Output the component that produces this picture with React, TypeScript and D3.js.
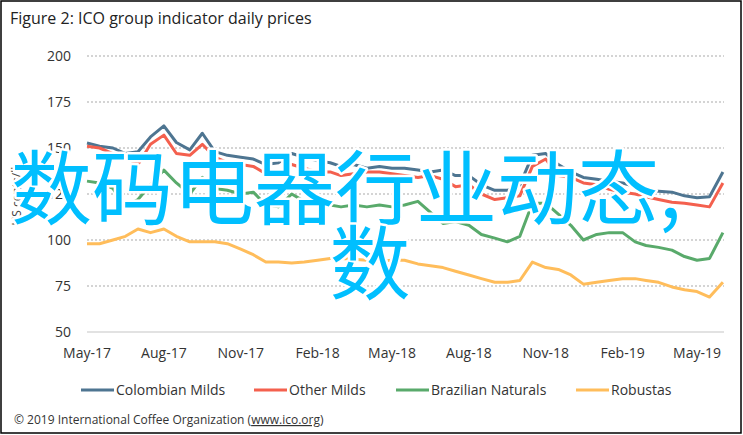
import { useEffect, useRef } from "react";
import * as d3 from "d3";

// half-monthly readings, May 2017 - Jun 2019 (US cents/lb)
const dates = [
  "2017-05-01", "2017-05-16", "2017-06-01", "2017-06-16", "2017-07-01", "2017-07-16",
  "2017-08-01", "2017-08-16", "2017-09-01", "2017-09-16", "2017-10-01", "2017-10-16",
  "2017-11-01", "2017-11-16", "2017-12-01", "2017-12-16", "2018-01-01", "2018-01-16",
  "2018-02-01", "2018-02-16", "2018-03-01", "2018-03-16", "2018-04-01", "2018-04-16",
  "2018-05-01", "2018-05-16", "2018-06-01", "2018-06-16", "2018-07-01", "2018-07-16",
  "2018-08-01", "2018-08-16", "2018-09-01", "2018-09-16", "2018-10-01", "2018-10-16",
  "2018-11-01", "2018-11-16", "2018-12-01", "2018-12-16", "2019-01-01", "2019-01-16",
  "2019-02-01", "2019-02-16", "2019-03-01", "2019-03-16", "2019-04-01", "2019-04-16",
  "2019-05-01", "2019-05-16", "2019-06-01",
];

const colombianMilds = [
  152.7, 151, 150, 147, 148, 156, 162, 153, 149, 158, 148, 146, 145, 144, 141, 142, 147,
  145, 143, 142, 140, 141, 139, 140, 139, 139, 138, 137, 138, 135, 135, 130, 127, 127,
  130, 146, 147, 141, 137, 134, 133, 132, 131, 129, 127, 126.5, 126, 124, 123, 123.5, 137,
];

const otherMilds = [
  151, 150, 147, 145, 141, 152, 157, 147, 146, 152, 145, 142, 141, 140, 136, 136, 141,
  139, 137, 137, 135, 136, 137, 137, 136, 135, 134, 135, 133, 129, 130, 125, 122, 123,
  124, 140, 144, 135, 134, 131, 130, 127.5, 126, 125, 123.5, 122, 120.5, 120, 119, 118, 131,
];

const brazilianNaturals = [
  132, 131, 128, 118, 122, 130, 138, 131, 125, 134, 128, 127, 125, 126, 119, 118, 125,
  121, 120, 119, 118, 119, 118, 119, 118, 119, 121, 115, 109, 110, 108, 103, 101, 99,
  102, 120, 120, 114, 108, 100, 103, 104, 104, 99, 97, 96, 94.5, 91, 89, 90, 104,
];

const robustas = [
  98, 98, 100, 102, 106, 104, 106, 102, 99, 99, 99, 98, 95, 92, 88, 88, 87.5, 88, 89, 90,
  90, 89.5, 89, 88.5, 89, 89, 87, 86, 85, 83, 81, 79, 77, 77, 78, 88, 85, 84, 81, 76, 77,
  78, 79, 79, 78, 77, 74.5, 73, 72, 69, 77,
];

const seriesNames = ["Colombian Milds", "Other Milds", "Brazilian Naturals", "Robustas"];
const seriesColors = ["#4e7591", "#f4604e", "#59aa6b", "#ffbd5b"];
const yTicks = [50, 75, 100, 125, 150, 175, 200];
const xTickDates = [
  "2017-05-01", "2017-08-01", "2017-11-01", "2018-02-01", "2018-05-01",
  "2018-08-01", "2018-11-01", "2019-02-01", "2019-05-01",
];

export default function App() {
  const ref = useRef<SVGSVGElement>(null);

  useEffect(() => {
    document.body.style.margin = "0";
    const svg = d3.select(ref.current);
    svg.selectAll("*").remove();

    const width = 743;
    const height = 435;
    const font = "'Open Sans', 'DejaVu Sans', sans-serif";
    const parse = d3.timeParse("%Y-%m-%d");
    const fmt = d3.timeFormat("%b-%y");

    const x = d3
      .scaleTime()
      .domain([parse("2017-05-01")!, parse("2019-05-01")!])
      .range([87, 697]);
    const y = d3.scaleLinear().domain([50, 200]).range([332, 56]);

    svg.append("rect")
      .attr("x", 1).attr("y", 1)
      .attr("width", width - 3).attr("height", height - 3)
      .attr("fill", "#fff").attr("stroke", "#000").attr("stroke-width", 1.5);

    svg.append("text")
      .attr("x", 10).attr("y", 24)
      .attr("font-family", font).attr("font-size", 16).attr("fill", "#222")
      .text("Figure 2: ICO group indicator daily prices");

    // gridlines
    svg.append("g")
      .selectAll("line")
      .data(yTicks)
      .join("line")
      .attr("x1", 87).attr("x2", 724)
      .attr("y1", (d) => y(d)).attr("y2", (d) => y(d))
      .attr("stroke", (d) => (d === 50 ? "#d9d9d9" : "#d4d4d4"))
      .attr("stroke-width", (d) => (d === 50 ? 1.5 : 2))
      .attr("stroke-dasharray", (d) => (d === 50 ? null : "2,2"));

    svg.append("g")
      .selectAll("text")
      .data(yTicks)
      .join("text")
      .attr("x", 71).attr("y", (d) => y(d) + 5)
      .attr("text-anchor", "end")
      .attr("font-family", font).attr("font-size", 14).attr("fill", "#333")
      .text((d) => d);

    svg.append("text")
      .attr("transform", "translate(21,194) rotate(-90)")
      .attr("text-anchor", "middle")
      .attr("font-family", font).attr("font-size", 12).attr("fill", "#444")
      .text("US cents/lb");

    svg.append("g")
      .selectAll("text")
      .data(xTickDates)
      .join("text")
      .attr("x", (d) => x(parse(d)!))
      .attr("y", 358)
      .attr("text-anchor", "middle")
      .attr("font-family", font).attr("font-size", 14).attr("fill", "#333")
      .text((d) => fmt(parse(d)!));

    const allSeries = [colombianMilds, otherMilds, brazilianNaturals, robustas];
    const line = d3
      .line<number>()
      .x((_, i) => x(parse(dates[i])!))
      .y((d) => y(d));

    allSeries.forEach((vals, k) => {
      svg.append("path")
        .datum(vals)
        .attr("d", line)
        .attr("fill", "none")
        .attr("stroke", seriesColors[k])
        .attr("stroke-width", 3)
        .attr("stroke-linejoin", "round");
    });

    // legend
    const legendX = [81, 254, 396, 576];
    const lg = svg.append("g").selectAll("g").data(seriesNames).join("g")
      .attr("transform", (_, i) => `translate(${legendX[i]},390)`);
    lg.append("line")
      .attr("x1", 0).attr("x2", 33)
      .attr("stroke", (_, i) => seriesColors[i]).attr("stroke-width", 3);
    lg.append("text")
      .attr("x", 35).attr("y", 5)
      .attr("font-family", font).attr("font-size", 14).attr("fill", "#333")
      .text((d) => d);

    const copy = svg.append("text")
      .attr("x", 14).attr("y", 424)
      .attr("font-family", font).attr("font-size", 12).attr("fill", "#333");
    copy.append("tspan").text("\u00a9 2019 International Coffee Organization (");
    copy.append("tspan").attr("text-decoration", "underline").text("www.ico.org");
    copy.append("tspan").text(")");

    // overlay text
    const cjk = "'Noto Sans CJK SC', sans-serif";
    const overlay = svg.append("g")
      .attr("font-family", cjk).attr("font-size", 81)
      .attr("fill", "#00bfff").attr("stroke", "#fff").attr("stroke-width", 5)
      .attr("paint-order", "stroke").attr("stroke-linejoin", "round");
    overlay.append("text").attr("x", 11).attr("y", 218).text("数码电器行业动态,");
    overlay.append("text").attr("x", 370).attr("y", 293).attr("text-anchor", "middle").text("数");
  }, []);

  return (
    <div style={{ position: "absolute", left: 0, top: 0, width: 743, height: 435 }}>
      <svg ref={ref} width={743} height={435} style={{ display: "block" }}></svg>
    </div>
  );
}
